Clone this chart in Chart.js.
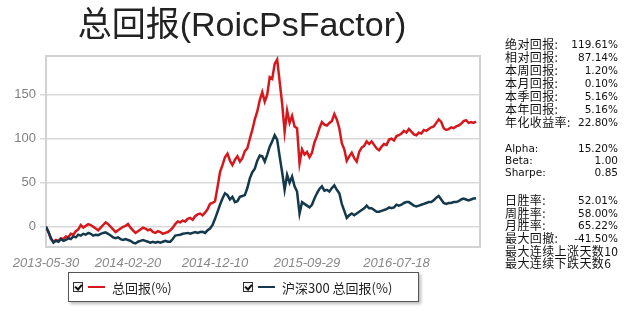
<!DOCTYPE html>
<html>
<head>
<meta charset="utf-8">
<script src="https://cdn.jsdelivr.net/npm/chart.js@4.4.0/dist/chart.umd.min.js"></script>
<style>
  body { margin: 0; background: #fff; }
  #wrap { position: relative; width: 627px; height: 311px; overflow: hidden; }
  #stats { position: absolute; left: 505px; top: 0; width: 113px; color: #111; }
  .row { position: absolute; left: 0; width: 113px; display: flex; justify-content: space-between; align-items: center; white-space: nowrap; overflow: visible; }
  .row span { line-height: 1; display: inline-block; }
  .k { font-family: "Noto Sans CJK SC", sans-serif; font-size: 12px; letter-spacing: 0.4px; }
  .v { font-family: "DejaVu Sans", sans-serif; font-size: 10.5px; }
  #legend { position: absolute; left: 68px; top: 272px; width: 349px; height: 28px; border: 1px solid #555; box-shadow: 2px 2px 3px #bbb; background: #fff; }
  .item { position: absolute; top: 0; height: 28px; display: flex; align-items: center; }
  .cb { position: relative; width: 8px; height: 8px; border: 1px solid #333; background: #f4f4f4; margin-right: 5px; }
  .cb::after { content: ""; position: absolute; left: 2px; top: 0px; width: 3px; height: 5px; border: solid #111; border-width: 0 2px 2px 0; transform: rotate(40deg); }
  .ln { width: 17px; height: 2px; margin-right: 7px; }
  .tx { font-family: "Noto Sans CJK SC", sans-serif; font-size: 13px; color: #222; }
</style>
</head>
<body>
<div id="wrap">
  <canvas id="grafico" width="627" height="311"></canvas>
  <div id="stats"></div>
  <div id="legend"></div>
</div>
<script>
// eixo x: posicoes (indice do ponto) e rotulos das datas
var xTickPos = [0, 33, 68, 105, 141];
var xTickLabels = ['2013-05-30', '2014-02-20', '2014-12-10', '2015-09-29', '2016-07-18'];
var yTicks = [0, 50, 100, 150];

var seriesNames = ['总回报(%)', '沪深300 总回报(%)'];

// total return da estrategia (%)
var portfolio = [
  0, -6, -14, -17, -15, -16, -13, -14, -11, -12,
  -8, -9, -5, -3, 2, -1, 1, 3, 2, 0,
  -2, -4, -1, 2, 5, 3, 0, -3, -6, -4,
  -2, 0, 1, 3, -1, -4, -7, -5, -3, -1,
  -2, -4, -3, -6, -7, -5, -6, -8, -7, -6,
  -4, -1, 3, 6, 5, 7, 6, 9, 10, 8,
  12, 14, 15, 13, 16, 20, 26, 27, 29, 45,
  62, 70, 79, 83, 75, 70, 76, 80, 74, 78,
  86, 89, 100, 110, 122, 131, 144, 153, 142, 150,
  170, 168, 185, 190, 165, 140, 108, 132, 118, 126,
  114, 112, 72, 88, 82, 85, 79, 84, 96, 103,
  112, 119, 116, 115, 118, 120, 128, 122, 112, 95,
  88, 75, 80, 84, 78, 74, 85, 90, 92, 97,
  94, 97, 93, 89, 87, 91, 94, 93, 99, 100,
  98, 103, 104, 106, 109, 107, 111, 108, 105, 104,
  107, 106, 110, 109, 111, 113, 114, 118, 122, 119,
  112, 110, 111, 113, 112, 114, 115, 117, 120, 121,
  118, 119, 118, 119.61
];

// total return do HS300 (%)
var hs300 = [
  0, -6, -13, -18, -16, -17, -14, -16, -15, -13,
  -14, -11, -12, -9, -10, -8, -9, -7, -8, -10,
  -9, -9.5, -8, -7, -6.4, -8, -10, -12, -13, -12,
  -14, -15, -14, -15, -16, -18, -19, -17, -16, -15,
  -16, -17, -18, -17, -18, -17, -18, -17, -16, -17,
  -17, -14, -10, -9.5, -9, -8, -7.5, -7, -8, -7,
  -6, -7, -6, -5.7, -7, -4, -2, 2, 9, 17,
  25, 32, 38, 36, 31, 34, 28, 29, 34, 35,
  36, 44, 55, 62, 66, 75, 81, 80, 74, 82,
  91, 97, 104, 99, 80, 62, 42, 59, 50, 57,
  46, 40, 15, 28, 26, 24, 22, 25, 32, 38,
  43, 46, 41, 42, 40, 44, 47, 42, 38, 26,
  18, 10, 13, 15, 13, 15, 17, 19, 21, 24,
  21, 21, 19, 17, 17, 18, 19, 20, 22, 21,
  22, 25, 24, 25, 27, 28, 28, 26, 24, 23,
  24, 25, 26, 27, 28, 28, 30, 33, 35, 31,
  27, 26, 27, 27, 28, 28, 29, 31, 32, 31,
  30, 31, 32, 32.47
];

// painel de estatisticas
var statLabels1 = ['绝对回报:', '相对回报:', '本周回报:', '本月回报:', '本季回报:', '本年回报:', '年化收益率:'];
var statValues1 = ['119.61%', '87.14%', '1.20%', '0.10%', '5.16%', '5.16%', '22.80%'];
var statLabels2 = ['Alpha:', 'Beta:', 'Sharpe:'];
var statValues2 = ['15.20%', '1.00', '0.85'];
var statLabels3 = ['日胜率:', '周胜率:', '月胜率:', '最大回撤:', '最大连续上涨天数10', '最大连续下跌天数6'];
var statValues3 = ['52.01%', '58.00%', '65.22%', '-41.50%', '', ''];

var corVermelho = '#d6181d';
var corAzul = '#15394c';

document.addEventListener("DOMContentLoaded", function () {
    montarPainel();
    montarLegenda();
    desenharGrafico();
});

function toPoints(arr) {
    return arr.map(function (v, i) { return { x: i, y: v }; });
}

function montarPainel() {
    var stats = document.getElementById('stats');
    var blocos = [
        { labels: statLabels1, values: statValues1, top: 37.5, h: 13 },
        { labels: statLabels2, values: statValues2, top: 142, h: 12 },
        { labels: statLabels3, values: statValues3, top: 194, h: 12.6 }
    ];
    blocos.forEach(function (b) {
        for (var i = 0; i < b.labels.length; i++) {
            var row = document.createElement('div');
            row.className = 'row';
            row.style.top = (b.top + i * b.h) + 'px';
            row.style.height = b.h + 'px';
            var lab = document.createElement('span');
            lab.className = /^[A-Za-z]/.test(b.labels[i]) ? 'v' : 'k';
            lab.textContent = b.labels[i];
            var val = document.createElement('span');
            val.className = 'v';
            val.textContent = b.values[i];
            row.appendChild(lab);
            row.appendChild(val);
            stats.appendChild(row);
        }
    });
}

function montarLegenda() {
    var legend = document.getElementById('legend');
    var cores = [corVermelho, corAzul];
    var lefts = [4, 174];
    for (var i = 0; i < seriesNames.length; i++) {
        var item = document.createElement('div');
        item.className = 'item';
        item.style.left = lefts[i] + 'px';
        item.innerHTML = '<span class="cb"></span><span class="ln" style="background:' + cores[i] + '"></span><span class="tx"></span>';
        item.querySelector('.tx').textContent = seriesNames[i];
        legend.appendChild(item);
    }
}

function desenharGrafico() {
    var ctx = document.getElementById('grafico').getContext('2d');

    // moldura cinza em volta da area do grafico
    var moldura = {
        id: 'moldura',
        beforeDatasetsDraw: function (chart) {
            var a = chart.chartArea;
            var c = chart.ctx;
            c.save();
            c.strokeStyle = '#d2d2d2';
            c.lineWidth = 2;
            c.strokeRect(a.left, a.top, a.right - a.left, a.bottom - a.top);
            c.restore();
        }
    };

    new Chart(ctx, {
        type: 'line',
        data: {
            datasets: [{
                label: seriesNames[0],
                data: toPoints(portfolio),
                borderColor: corVermelho,
                borderWidth: 2.5,
                pointRadius: 0,
                fill: false,
                order: 1
            }, {
                label: seriesNames[1],
                data: toPoints(hs300),
                borderColor: corAzul,
                borderWidth: 2.5,
                pointRadius: 0,
                fill: false,
                order: 0
            }]
        },
        options: {
            responsive: false,
            animation: false,
            layout: { padding: { left: 4, right: 147, top: 0, bottom: 44 } },
            plugins: {
                legend: { display: false },
                tooltip: { enabled: false },
                title: {
                    display: true,
                    text: '总回报(RoicPsFactor)',
                    color: '#222',
                    font: { family: '"Liberation Sans", "Noto Sans CJK SC", sans-serif', size: 34, weight: 'normal', lineHeight: 1.2 },
                    padding: { top: 6, bottom: 9.2 }
                }
            },
            scales: {
                x: {
                    type: 'linear',
                    min: 0,
                    max: 174.6,
                    grid: { display: false },
                    border: { display: false },
                    afterBuildTicks: function (s) {
                        s.ticks = xTickPos.map(function (v) { return { value: v }; });
                    },
                    afterFit: function (s) { s.height = 20; },
                    ticks: {
                        autoSkip: false,
                        maxRotation: 0,
                        padding: 1,
                        color: '#888',
                        font: { family: '"Liberation Sans", sans-serif', size: 13, style: 'italic' },
                        callback: function (v, i) { return xTickLabels[i]; }
                    }
                },
                y: {
                    min: -23,
                    max: 194,
                    afterBuildTicks: function (s) {
                        s.ticks = yTicks.map(function (v) { return { value: v }; });
                    },
                    afterFit: function (s) { s.width = 42; },
                    grid: { color: '#d9d9d9', lineWidth: 1.5, tickLength: 6 },
                    border: { display: false },
                    ticks: {
                        padding: 4,
                        color: '#808080',
                        font: { family: '"Liberation Sans", sans-serif', size: 13 }
                    }
                }
            }
        },
        plugins: [moldura]
    });
}
</script>
</body>
</html>
